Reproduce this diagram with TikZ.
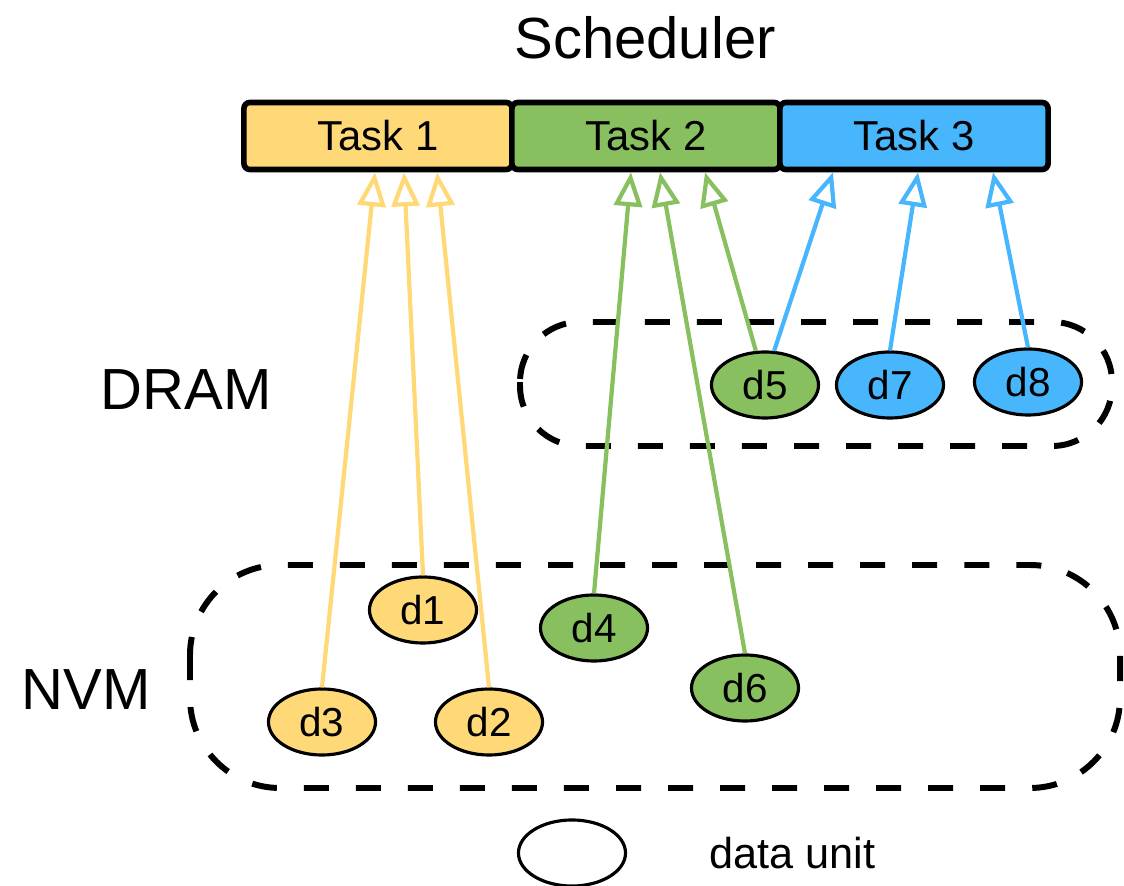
\documentclass[tikz,border=0pt]{standalone}
\usepackage{fontspec}
\setmainfont{Liberation Sans}
\usetikzlibrary{shapes.geometric,arrows.meta,positioning}
\definecolor{taskyellow}{HTML}{FFD977}
\definecolor{taskgreen}{HTML}{88BF5F}
\definecolor{taskblue}{HTML}{47B6FD}

\tikzset{
  task/.style={draw, line width=1.6pt, rounded corners=0.06cm, minimum width=2.68cm, minimum height=0.67cm, inner sep=0pt, font=\fontsize{11.9}{14}\selectfont},
  unit/.style={draw, ellipse, line width=0.9pt, minimum width=1.07cm, minimum height=0.66cm, inner sep=0pt, font=\fontsize{11.5}{13}\selectfont},
  region/.style={dash pattern=on 0.25cm off 0.27cm, line width=1.7pt},
  feed/.style={line width=1.2pt, -{Triangle[open, length=0.34cm, width=0.28cm]}},
  big/.style={font=\fontsize{16.5}{20}\selectfont}
}

\begin{document}
\begin{tikzpicture}[x=0.01cm, y=-0.01cm]
\useasboundingbox (0,0) rectangle (1124,886);

\node[big] (sched) at (645,38) {Scheduler};

\node[task, fill=taskyellow] (task1) at (378,136) {Task 1};
\node[task, fill=taskgreen] (task2) at (646,136) {Task 2};
\node[task, fill=taskblue] (task3) at (914,136) {Task 3};

% memories
\draw[region, rounded corners=0.6cm] (520,322) rectangle (1112,446);
\draw[region, rounded corners=0.9cm] (190,565) rectangle (1120,788);
\node[big] (dram) at (186,390) {DRAM};
\node[big] (nvm) at (86,690) {NVM};

\foreach \n/\x/\y/\c in {d1/423/610/taskyellow, d2/489/722/taskyellow, d3/322/722/taskyellow, d4/594/628/taskgreen, d5/765/385/taskgreen, d6/745/688/taskgreen, d7/890/385/taskblue, d8/1028/382/taskblue}
  \node[unit, fill=\c] (\n) at (\x,\y) {\n};

\foreach \s/\t/\dx/\c in {d3.north/task1/-0.03/taskyellow, d1.north/task1/0.26/taskyellow, d2.north/task1/0.59/taskyellow, d4.north/task2/-0.15/taskgreen, d6.north/task2/0.14/taskgreen, d5.105/task2/0.59/taskgreen, d5.75/task3/-0.81/taskblue, d7.north/task3/0.04/taskblue, d8.north/task3/0.79/taskblue}
  \draw[feed, \c] (\s) -- ([xshift=\dx cm]\t.south);

% legend
\node[unit] (legend) at (572,853) {};
\node[font=\fontsize{12.3}{15}\selectfont, anchor=west] (legendtext) at (697,853) {data unit};

\end{tikzpicture}
\end{document}
